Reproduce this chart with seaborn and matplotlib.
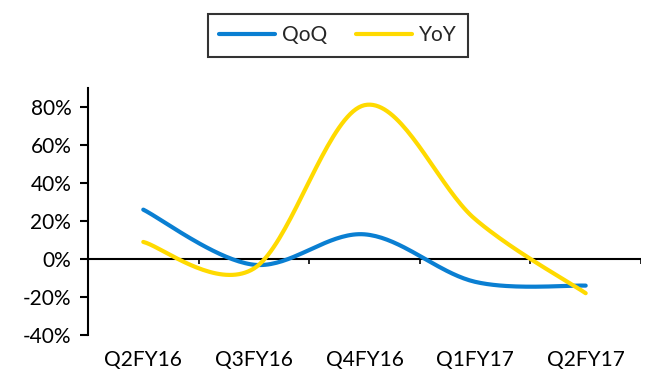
import numpy as np
import pandas as pd
import matplotlib
matplotlib.use("Agg")
import matplotlib.pyplot as plt
import seaborn as sns
from matplotlib.lines import Line2D

quarters = ["Q2FY16", "Q3FY16", "Q4FY16", "Q1FY17", "Q2FY17"]
qoq = [26, -3, 13, -12, -14]
yoy = [9, -5, 81, 21, -18]
series_names = ["QoQ", "YoY"]
series_colors = ["#0A7FD2", "#FFDA00"]
y_ticks = [-40, -20, 0, 20, 40, 60, 80]


def smooth_curve(values, steps=40):
    """Bezier smoothing through every point (Catmull-Rom style control points)."""
    pts = np.column_stack([np.arange(len(values), dtype=float), np.asarray(values, float)])
    padded = np.vstack([pts[0], pts, pts[-1]])
    out = [pts[0]]
    t = np.linspace(0, 1, steps)[1:, None]
    for i in range(len(pts) - 1):
        p0, p1 = padded[i + 1], padded[i + 2]
        c1 = p0 + (padded[i + 2] - padded[i]) / 6.0
        c2 = p1 - (padded[i + 3] - padded[i + 1]) / 6.0
        seg = ((1 - t) ** 3) * p0 + 3 * ((1 - t) ** 2) * t * c1 + 3 * (1 - t) * t ** 2 * c2 + t ** 3 * p1
        out.extend(seg)
    out = np.array(out)
    return out[:, 0], out[:, 1]


frames = []
for name, vals in zip(series_names, [qoq, yoy]):
    xs, ys = smooth_curve(vals)
    frames.append(pd.DataFrame({"x": xs, "y": ys, "series": name, "order": np.arange(len(xs))}))
df = pd.concat(frames, ignore_index=True)

sns.set_theme(style="white")
plt.rcParams["font.family"] = ["Lato", "DejaVu Sans"]

fig = plt.figure(figsize=(6.65, 3.77), dpi=100)
ax = fig.add_axes([0.1323, 0.1114, 0.8316, 0.655])

sns.lineplot(data=df, x="x", y="y", hue="series", hue_order=series_names,
             palette=series_colors, sort=False, estimator=None, units="series",
             linewidth=3, legend=False, ax=ax)

ax.set_xlim(-0.5, len(quarters) - 0.5)
ax.set_ylim(-40, 90)

# y axis: left spine with outward ticks
for side in ["top", "right", "bottom"]:
    ax.spines[side].set_visible(False)
ax.spines["left"].set_color("black")
ax.spines["left"].set_linewidth(1.5)
ax.set_yticks(y_ticks)
ax.set_yticklabels([f"{v}%" for v in y_ticks])
ax.tick_params(axis="y", direction="out", length=6, width=1.5, color="black",
               left=True, labelsize=15, pad=6, labelcolor="black")

# category axis sits at zero; labels stay at the bottom
ax.set_xticks(range(len(quarters)))
ax.set_xticklabels(quarters)
ax.tick_params(axis="x", length=0, labelsize=15, pad=11, labelcolor="black")
ax.axhline(0, color="black", linewidth=1.5, zorder=1)
bounds = np.arange(len(quarters) + 1) - 0.5
ax.vlines(bounds, -2.6, 0, color="black", linewidth=1.2, zorder=1)
ax.set_xlabel("")
ax.set_ylabel("")
ax.grid(False)

handles = [Line2D([0], [0], color=c, linewidth=3) for c in series_colors]
leg = fig.legend(handles, series_names, loc="center", bbox_to_anchor=(0.508, 0.907),
                 ncol=2, frameon=True, fancybox=False, fontsize=15,
                 handlelength=2.7, columnspacing=1.4, handletextpad=0.3,
                 borderpad=0.55)
leg.get_frame().set_edgecolor("black")
leg.get_frame().set_linewidth(1.5)

fig.savefig("out.png", dpi=100)
